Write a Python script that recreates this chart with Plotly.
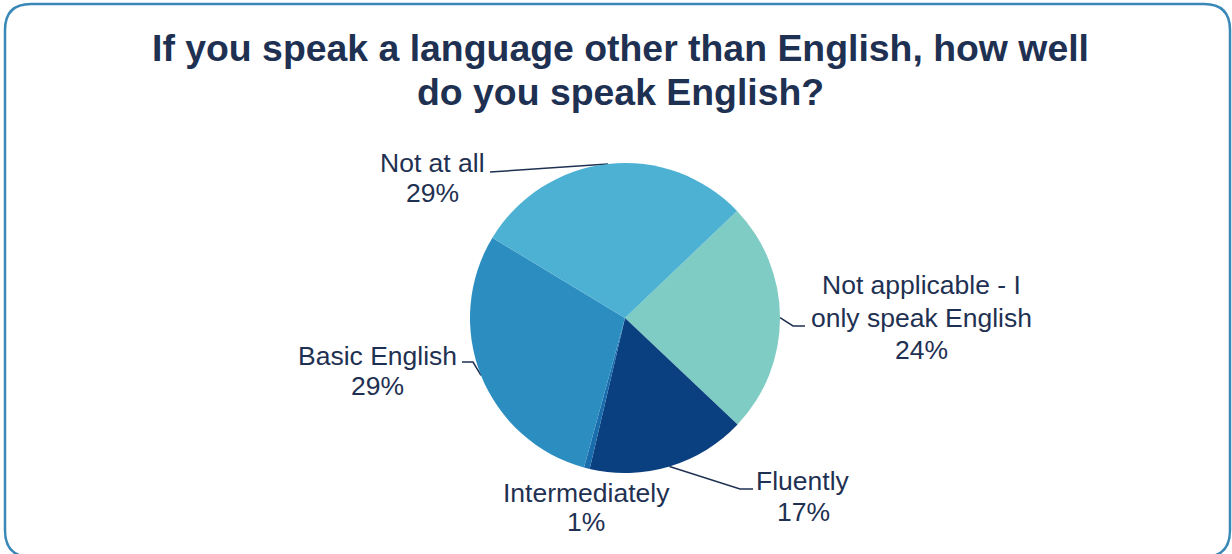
import math
import plotly.graph_objects as go

# ---- data ----
categories = ["Not applicable - I only speak English", "Fluently", "Intermediately",
              "Basic English", "Not at all"]
values = [24.2, 16.6, 0.6, 29.4, 29.2]
colors = ["#7ECCC4", "#0B4080", "#1A6DAD", "#2C8DC0", "#4CB1D3"]
title_lines = ["If you speak a language other than English, how well",
               "do you speak English?"]
label_lines = [["Not applicable - I", "only speak English"], ["Fluently"],
               ["Intermediately"], ["Basic English"], ["Not at all"]]

# ---- layout constants (pixels) ----
W, H = 1232, 554
CX, CY, R = 625, 318, 155
ROT = 46.3
TXT = "#1F3152"
FONT = "Liberation Sans, Arial, sans-serif"

# label text anchors (center x, first line y, line step)
label_pos = [(921, 285, 32.5), (803, 481, 31), (586, 493, 29), (377, 356, 30), (432, 163, 30)]
# leader line elbow points (None = no leader)
leader_pts = [[(793, 326), (805, 326)], [(740, 489), (753, 489)], None,
              [(473, 362), (462, 362)], [(497, 172), (490, 172)]]

fig = go.Figure()
fig.add_trace(go.Pie(
    labels=categories, values=values, sort=False, direction="clockwise",
    rotation=ROT, marker=dict(colors=colors, line=dict(width=0)),
    textinfo="none", hoverinfo="label+percent", showlegend=False,
    domain=dict(x=[(CX - R) / W, (CX + R) / W], y=[1 - (CY + R) / H, 1 - (CY - R) / H]),
))

total = sum(values)
cum = 0.0
annotations = []
for i, v in enumerate(values):
    mid = ROT + (cum + v / 2) / total * 360.0
    cum += v
    ex = CX + R * math.sin(math.radians(mid))
    ey = CY - R * math.cos(math.radians(mid))
    if leader_pts[i] is not None:
        xs = [ex] + [p[0] for p in leader_pts[i]]
        ys = [ey] + [p[1] for p in leader_pts[i]]
        fig.add_trace(go.Scatter(x=xs, y=ys, mode="lines", xaxis="x", yaxis="y",
                                 line=dict(color=TXT, width=1.5), hoverinfo="skip",
                                 showlegend=False))
    lx, ly, step = label_pos[i]
    lines = label_lines[i] + [f"{round(v)}%"]
    for j, t in enumerate(lines):
        annotations.append(dict(x=lx, y=ly + j * step, xref="x", yref="y", text=t,
                                showarrow=False, xanchor="center", yanchor="middle",
                                font=dict(family=FONT, size=26.5, color=TXT)))

for j, t in enumerate(title_lines):
    annotations.append(dict(x=620, y=48 + j * 44, xref="x", yref="y", text=f"<b>{t}</b>",
                            showarrow=False, xanchor="center", yanchor="middle",
                            font=dict(family=FONT, size=37.4, color=TXT)))

border = ("M 5,30 Q 5,4 31,4 L 1204,4 Q 1230,4 1230,30 L 1230,530 "
          "Q 1230,557 1204,557 L 31,557 Q 5,557 5,530 Z")

fig.update_layout(
    width=W, height=H, margin=dict(l=0, r=0, t=0, b=0),
    paper_bgcolor="white", plot_bgcolor="rgba(0,0,0,0)",
    xaxis=dict(range=[0, W], visible=False, fixedrange=True),
    yaxis=dict(range=[H, 0], visible=False, fixedrange=True),
    annotations=annotations,
    shapes=[dict(type="path", path=border, xref="x", yref="y",
                 line=dict(color="#3A88B8", width=2.5), layer="above")],
)

fig.write_html("out.html", config=dict(displayModeBar=False),
               post_script="document.body.style.margin='0';document.body.style.overflow='hidden';")
